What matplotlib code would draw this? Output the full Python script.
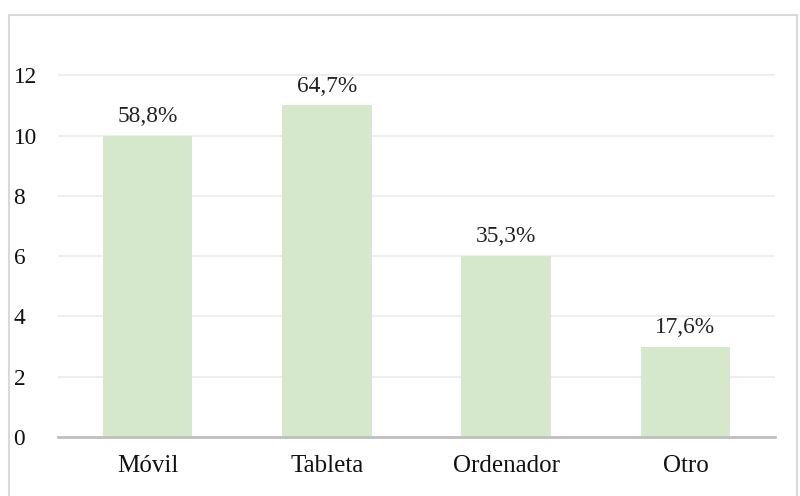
import matplotlib
matplotlib.use("Agg")
import matplotlib.pyplot as plt
from matplotlib.patches import Rectangle

categories = ["Móvil", "Tableta", "Ordenador", "Otro"]
values = [10, 11, 6, 3]
labels = ["58,8%", "64,7%", "35,3%", "17,6%"]
yticks = [0, 2, 4, 6, 8, 10, 12]

plt.rcParams['font.family'] = ['Liberation Serif', 'DejaVu Serif']

fig = plt.figure(figsize=(8, 4.96), dpi=100)
ax = fig.add_axes([58/800, 1-437/496, 717/800, 422/496])

x = list(range(len(categories)))
bars = ax.bar(x, values, width=0.5, color="#D5E8CB", zorder=2)
for b, lab in zip(bars, labels):
    ax.annotate(lab, (b.get_x() + b.get_width()/2, b.get_height()),
                xytext=(0, 10), textcoords="offset points",
                ha="center", va="baseline", fontsize=16.8, color="#222222")

ax.set_xlim(-0.5, 3.5)
ax.set_ylim(0, 14)
ax.set_yticks(yticks)
ax.set_xticks(x)
ax.set_xticklabels(categories)
ax.tick_params(axis="both", length=0, colors="#111111")
ax.tick_params(axis="x", pad=13, labelsize=18)
ax.tick_params(axis="y", pad=32, labelsize=16.8)
for lab in ax.get_yticklabels():
    lab.set_horizontalalignment("left")
ax.yaxis.grid(True, color="#EBEBEB", linewidth=1.2, zorder=0)
ax.set_axisbelow(True)
for s in ["top", "right", "left"]:
    ax.spines[s].set_visible(False)
ax.spines["bottom"].set_color("#BFBFBF")
ax.spines["bottom"].set_linewidth(2)
ax.spines["bottom"].set_zorder(3)

fig.patches.append(Rectangle((9/800, -0.05), 788/800, 1.05 - 15/496,
                             transform=fig.transFigure, fill=False,
                             edgecolor="#D9D9D9", linewidth=1.5))

fig.savefig("out.png", dpi=100)
